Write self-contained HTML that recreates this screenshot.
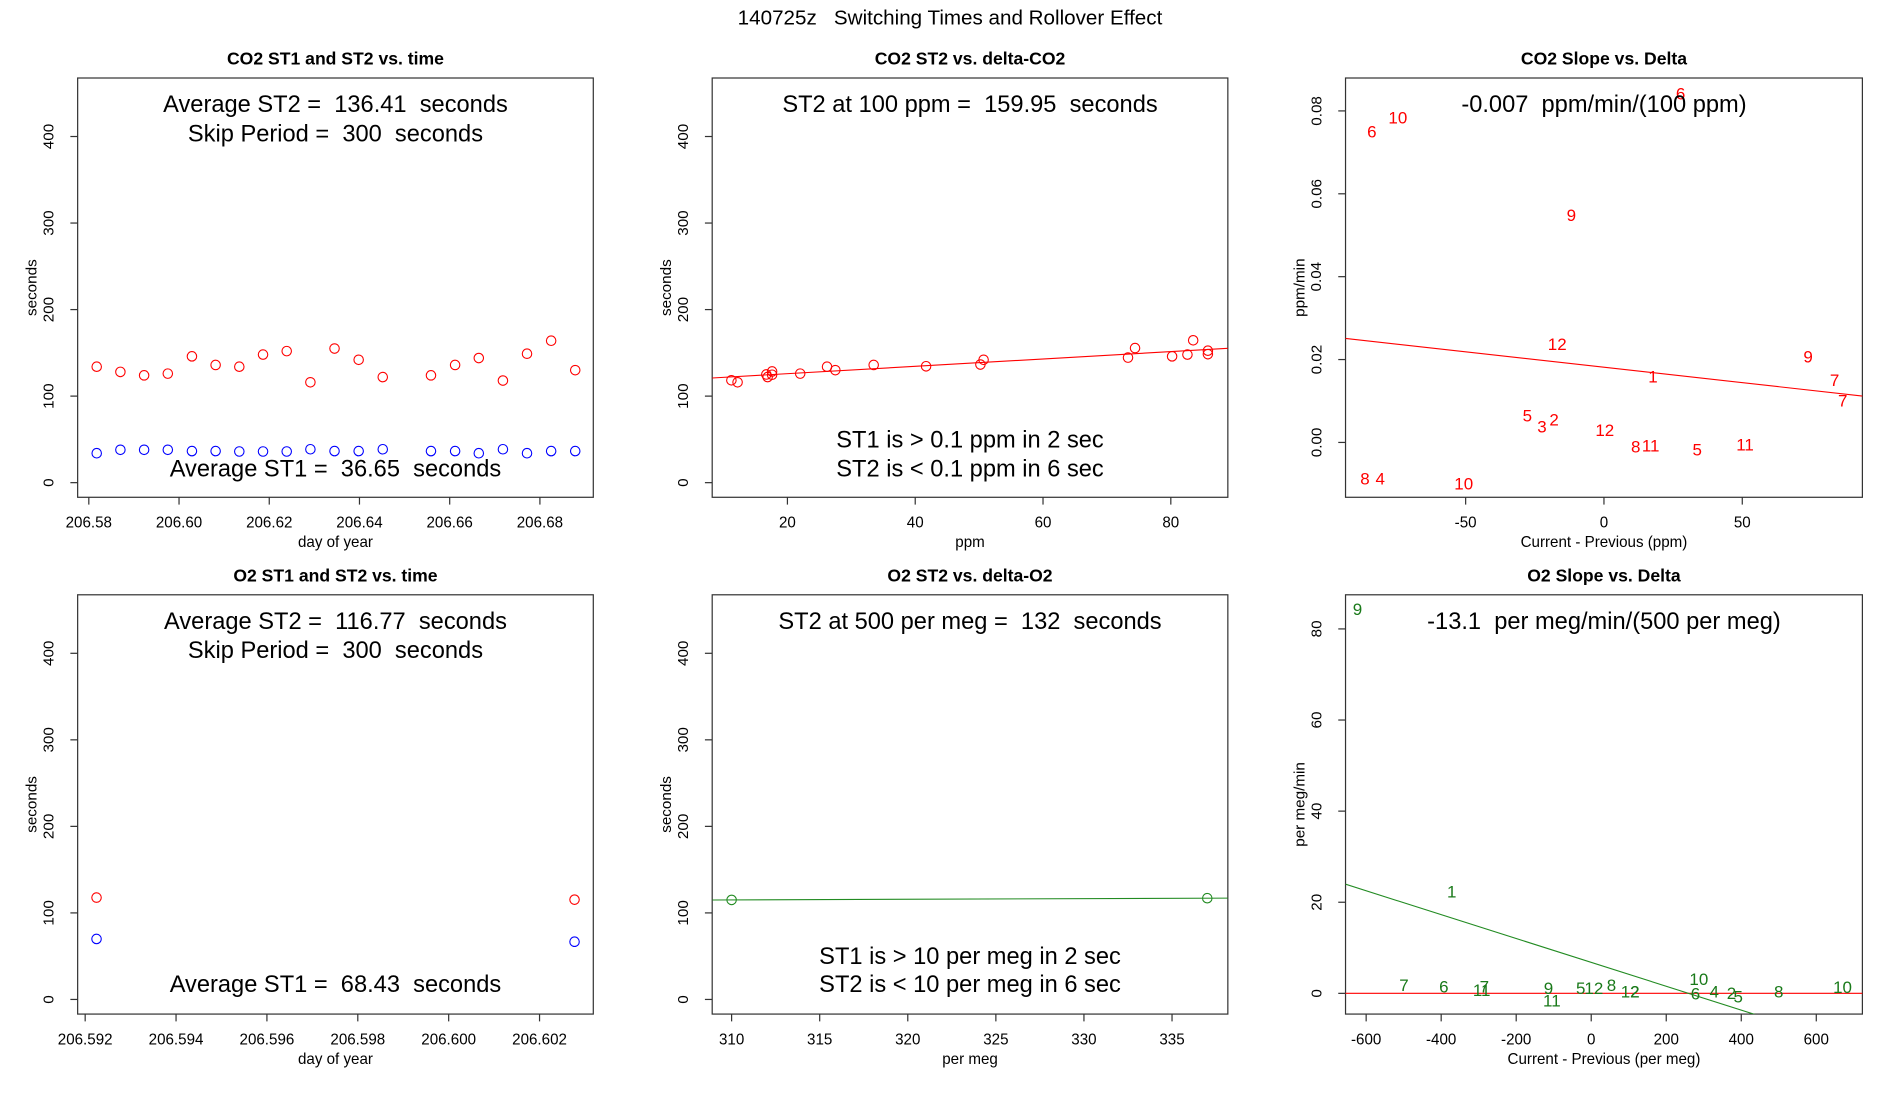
<!DOCTYPE html>
<html><head><meta charset="utf-8"><style>
html,body{margin:0;padding:0;background:#fff;}
svg{display:block;font-family:"Liberation Sans",sans-serif;}
svg text{white-space:pre;}
</style></head><body>
<svg id="fig" width="1900" height="1100" viewBox="0 0 1566 902.5" preserveAspectRatio="none" xmlns="http://www.w3.org/2000/svg">
<rect width="1566" height="902.5" fill="#fff"/>
<text x="783" y="20" font-size="17" text-anchor="middle">140725z   Switching Times and Rollover Effect</text>
</svg>
<script>
// ---- Panel 1: CO2 ST1/ST2 vs time
const co2Time = [206.58175,206.5870,206.59226,206.59751,206.60286,206.60811,206.61336,206.61862,206.62387,206.62912,206.63447,206.63982,206.64516,206.65585,206.6612,206.66645,206.6718,206.67714,206.68249,206.68783];
const co2ST2 = [134,128,124,126,146,136,134,148,152,116,155,142,122,124,136,144,118,149,164,130];
const co2ST1 = [34,38,38,38,36.5,36.5,36,36,36,38.6,36.5,36.5,38.6,36.5,36.5,34,38.6,34,36.5,36.5];
const co2TimeTicks = [206.58,206.60,206.62,206.64,206.66,206.68];
const secTicks = [0,100,200,300,400];
// ---- Panel 2: CO2 ST2 vs delta
const co2Delta = [11.23,12.2,16.7,16.9,17.6,17.6,22.0,26.2,27.5,33.5,41.7,50.2,50.7,73.3,74.4,80.2,82.6,83.5,85.8,85.8];
const co2DeltaST2 = [118.3,116,125,122,128.5,124.7,126,134,130,136,134.5,136.5,142,144.5,155.5,146,148,164.5,152.5,148.5];
const co2FitIntercept = 117.45, co2FitSlope = 0.425;
const ppmTicks = [20,40,60,80];
// ---- Panel 3: CO2 slope vs delta
const co2SlopeX = [-83.9,-74.5,27.7,-11.8,-16.9,17.7,73.8,83.4,86.3,-27.7,-22.4,-18,0.3,11.5,16.9,33.7,51,-86.4,-80.9,-50.7];
const co2SlopeY = [0.075,0.0784,0.0842,0.0549,0.0238,0.0159,0.0207,0.0151,0.0101,0.0065,0.0039,0.0056,0.003,-0.001,-0.0007,-0.0017,-0.0005,-0.0087,-0.0087,-0.0099];
const co2SlopeLbl = ["6","10","6","9","12","1","9","7","7","5","3","2","12","8","11","5","11","8","4","10"];
const co2SlopeIntercept = 0.01815, co2SlopeSlope = -0.0000746;
const slopeYTicks = [0,0.02,0.04,0.06,0.08];
const slopeYTickLbl = ["0.00","0.02","0.04","0.06","0.08"];
const slopeXTicks = [-50,0,50];
// ---- Panel 4: O2 ST1/ST2 vs time
const o2Time = [206.59225,206.60277];
const o2ST2 = [117.7,115.3];
const o2ST1 = [69.9,66.7];
const o2TimeTicks = [206.592,206.594,206.596,206.598,206.600,206.602];
const o2TimeTickLbl = ["206.592","206.594","206.596","206.598","206.600","206.602"];
// ---- Panel 5: O2 ST2 vs delta
const o2Delta = [310,337];
const o2DeltaST2 = [115,117];
const o2FitIntercept = 92.0, o2FitSlope = 0.0742;
const permegTicks = [310,315,320,325,330,335];
// ---- Panel 6: O2 slope vs delta
const o2SlopeX = [-623,-372,-499,-393,-292,-285,-114,-105,-28,7,54,104,116,287,278,328,374,392,500,670];
const o2SlopeY = [84.4,22.4,1.9,1.5,0.8,1.5,1.2,-1.5,1.2,1.2,1.9,0.4,0.4,3.2,0,0.4,0.1,-0.7,0.4,1.4];
const o2SlopeLbl = ["9","1","7","6","11","7","9","11","5","12","8","12","2","10","6","4","2","5","8","10"];
const o2SlopeIntercept = 6.8, o2SlopeSlope = -0.0262;
const o2RefIntercept = 0, o2RefSlope = 0;
const o2YTicks = [0,20,40,60,80];
const o2XTicks = [-600,-400,-200,0,200,400,600];

const NS = "http://www.w3.org/2000/svg";
const svg = document.getElementById('fig');
let clipN = 0;
function mk(tag, attrs, parent){ const e=document.createElementNS(NS,tag); for(const k in attrs) e.setAttribute(k,attrs[k]); (parent||svg).appendChild(e); return e; }
function lin(d0,d1,r0,r1){ return v => r0 + (v-d0)*(r1-r0)/(d1-d0); }

function panel(cfg){
  const g = mk('g',{});
  
  
  const [L,T,R,B] = cfg.box;
  const cx = (L+R)/2;
  const t = mk('text',{x:cx,y:T-11,'font-size':14.5,'font-weight':'bold','text-anchor':'middle'},g);
  t.textContent = cfg.title;
  
  
  const id = 'clip'+(clipN++);
  const cp = mk('clipPath',{id:id},g); mk('rect',{x:L,y:T,width:R-L,height:B-T},cp);
  const frame = mk('rect',{x:L,y:T,width:R-L,height:B-T,fill:'none',stroke:'#333','stroke-width':1},g);
  
  
  cfg.xTicks.forEach((v,i)=>{
    const x = cfg.X(v);
    mk('line',{x1:x,x2:x,y1:B,y2:B+6,stroke:'#333'},g);
    const tl = mk('text',{x:x,y:B+25,'font-size':12.5,'text-anchor':'middle'},g);
    tl.textContent = cfg.xTickLbl ? cfg.xTickLbl[i] : String(v);
    
    
  });
  cfg.yTicks.forEach((v,i)=>{
    const y = cfg.Y(v);
    mk('line',{x1:L,x2:L-6,y1:y,y2:y,stroke:'#333'},g);
    const tl = mk('text',{x:L-20,y:y,'font-size':12.5,'text-anchor':'middle',transform:`rotate(-90 ${L-20} ${y})`},g);
    tl.textContent = cfg.yTickLbl ? cfg.yTickLbl[i] : String(v);
    
    
  });
  const xt = mk('text',{x:cx,y:B+41,'font-size':12.5,'text-anchor':'middle'},g);
  xt.textContent = cfg.xTitle;
  
  
  const yx = L-34, yy=(T+B)/2;
  const yt = mk('text',{x:yx,y:yy,'font-size':12.5,'text-anchor':'middle',transform:`rotate(-90 ${yx} ${yy})`},g);
  yt.textContent = cfg.yTitle;
  
  
  const inner = mk('g',{'clip-path':`url(#${id})`},g);
  (cfg.notes||[]).forEach(n=>{
    const nt = mk('text',{x:cx,y:n[1],'font-size':19.5,'text-anchor':'middle'},g);
    nt.textContent = n[0];
    
    
  });
  return {g:inner, X:cfg.X, Y:cfg.Y, L, R};
}
function circles(p, xs, ys, color, nm){
  xs.forEach((v,i)=>{
    const c = mk('circle',{cx:p.X(v),cy:p.Y(ys[i]),r:3.9,fill:'none',stroke:color,'stroke-width':0.9},p.g);
    
    
  });
}
function labels(p, xs, ys, lbls, color, nm){
  xs.forEach((v,i)=>{
    const t = mk('text',{x:p.X(v),y:p.Y(ys[i])+5,'font-size':14,'text-anchor':'middle',fill:color},p.g);
    t.textContent = lbls[i];
    
    
  });
}
function abline(p, a, b, color, nm, xmin, xmax){
  const l = mk('line',{x1:p.L,y1:p.Y(a+b*xmin),x2:p.R,y2:p.Y(a+b*xmax),stroke:color,'stroke-width':0.9},p.g);
  
  
}

// Panel 1
const Ysec1 = lin(0,400,396,112);
const p1 = panel({name:'co2-st-vs-time-panel',title:'CO2 ST1 and ST2 vs. time',box:[64,64,489,408],
  X:lin(206.58,206.68,73.2,445),Y:Ysec1,xTicks:co2TimeTicks,xTickLbl:co2TimeTicks.map(v=>v.toFixed(2)),yTicks:secTicks,
  xTitle:'day of year',yTitle:'seconds',
  notes:[['Average ST2 =  136.41  seconds',92],['Skip Period =  300  seconds',116],['Average ST1 =  36.65  seconds',391]]});
circles(p1, co2Time, co2ST2, '#ff0000', 'st2-point');
circles(p1, co2Time, co2ST1, '#0000ff', 'st1-point');

// Panel 2
const p2 = panel({name:'co2-st2-vs-delta-panel',title:'CO2 ST2 vs. delta-CO2',box:[587,64,1012,408],
  X:lin(20,80,649,965),Y:Ysec1,xTicks:ppmTicks,yTicks:secTicks,xTitle:'ppm',yTitle:'seconds',
  notes:[['ST2 at 100 ppm =  159.95  seconds',92],['ST1 is > 0.1 ppm in 2 sec',367],['ST2 is < 0.1 ppm in 6 sec',391]]});
abline(p2, co2FitIntercept, co2FitSlope, '#ff0000', 'fit-line', 8.23, 88.9);
circles(p2, co2Delta, co2DeltaST2, '#ff0000', 'st2-point');

// Panel 3
const p3 = panel({name:'co2-slope-vs-delta-panel',title:'CO2 Slope vs. Delta',box:[1109,64,1535,408],
  X:lin(-50,50,1208,1436),Y:lin(0,0.08,363,91),xTicks:slopeXTicks,yTicks:slopeYTicks,yTickLbl:slopeYTickLbl,
  xTitle:'Current - Previous (ppm)',yTitle:'ppm/min',
  notes:[['-0.007  ppm/min/(100 ppm)',92]]});
abline(p3, co2SlopeIntercept, co2SlopeSlope, '#ff0000', 'fit-line', -93.2, 93.2);
labels(p3, co2SlopeX, co2SlopeY, co2SlopeLbl, '#ff0000', 'hour-label');

// Panel 4
const Ysec2 = lin(0,400,820,536);
const p4 = panel({name:'o2-st-vs-time-panel',title:'O2 ST1 and ST2 vs. time',box:[64,488,489,832],
  X:lin(206.592,206.602,70.2,444.7),Y:Ysec2,xTicks:o2TimeTicks,xTickLbl:o2TimeTickLbl,yTicks:secTicks,
  xTitle:'day of year',yTitle:'seconds',
  notes:[['Average ST2 =  116.77  seconds',516],['Skip Period =  300  seconds',540],['Average ST1 =  68.43  seconds',814]]});
circles(p4, o2Time, o2ST2, '#ff0000', 'st2-point');
circles(p4, o2Time, o2ST1, '#0000ff', 'st1-point');

// Panel 5
const p5 = panel({name:'o2-st2-vs-delta-panel',title:'O2 ST2 vs. delta-O2',box:[587,488,1012,832],
  X:lin(310,335,603,966),Y:Ysec2,xTicks:permegTicks,yTicks:secTicks,xTitle:'per meg',yTitle:'seconds',
  notes:[['ST2 at 500 per meg =  132  seconds',516],['ST1 is > 10 per meg in 2 sec',791],['ST2 is < 10 per meg in 6 sec',814]]});
abline(p5, o2FitIntercept, o2FitSlope, '#228b22', 'fit-line', 308.9, 338.2);
circles(p5, o2Delta, o2DeltaST2, '#228b22', 'st2-point');

// Panel 6
const p6 = panel({name:'o2-slope-vs-delta-panel',title:'O2 Slope vs. Delta',box:[1109,488,1535,832],
  X:lin(-600,600,1126,1497),Y:lin(0,80,815,516),xTicks:o2XTicks,yTicks:o2YTicks,
  xTitle:'Current - Previous (per meg)',yTitle:'per meg/min',
  notes:[['-13.1  per meg/min/(500 per meg)',516]]});
abline(p6, o2RefIntercept, o2RefSlope, '#ff0000', 'zero-line', -655, 723);
abline(p6, o2SlopeIntercept, o2SlopeSlope, '#228b22', 'fit-line', -655, 723);
labels(p6, o2SlopeX, o2SlopeY, o2SlopeLbl, '#1a7a1a', 'hour-label');
</script>
</body></html>
